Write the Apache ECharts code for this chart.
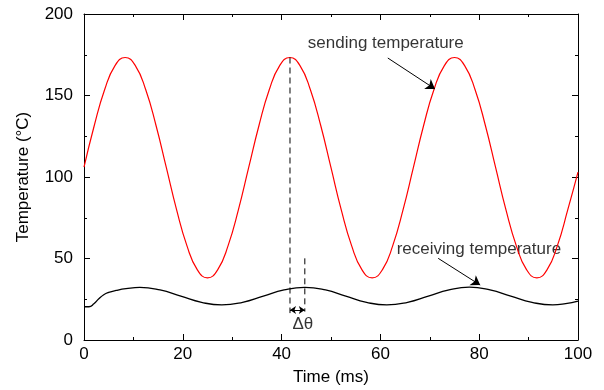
<!DOCTYPE html>
<html>
<head>
<meta charset="utf-8">
<script src="https://cdn.jsdelivr.net/npm/echarts@6/dist/echarts.min.js"></script>
<style>
  html, body { margin: 0; padding: 0; background: #fff; }
  #chart { width: 604px; height: 390px; }
</style>
</head>
<body>
<div id="chart"></div>
<script>
// sending temperature (red)
var sendX = [0, 2.08, 4.17, 6.25, 8.33, 10.42, 12.5, 14.58, 16.67, 18.75, 20.83, 22.92, 25, 27.08, 29.17, 31.25,
  33.33, 35.42, 37.5, 39.58, 41.67, 43.75, 45.83, 47.92, 50, 52.08, 54.17, 56.25, 58.33, 60.42, 62.5, 64.58,
  66.67, 68.75, 70.83, 72.92, 75, 77.08, 79.17, 81.25, 83.33, 85.42, 87.5, 89.58, 91.67, 93.75, 95.83, 97.92, 100];
var sendY = [106, 131.6, 153.5, 168.2, 173.3, 168.2, 153.5, 131.6, 105.7, 79.8, 57.9, 43.2, 38.1, 43.2, 57.9, 79.8,
  105.7, 131.6, 153.5, 168.2, 173.3, 168.2, 153.5, 131.6, 105.7, 79.8, 57.9, 43.2, 38.1, 43.2, 57.9, 79.8,
  105.7, 131.6, 153.5, 168.2, 173.3, 168.2, 153.5, 131.6, 105.7, 79.8, 57.9, 43.2, 38.1, 43.2, 57.9, 79.8, 103];

// receiving temperature (black)
var recvX = [0, 1, 2, 3, 4, 5, 6.5, 8.5, 11.3, 15.4, 19.6, 23.8, 27.9, 32.1, 36.3, 40.5, 44.7, 48.9, 53, 57.2,
  61.3, 65.5, 69.7, 73.9, 78, 82.2, 86.4, 90.7, 94.9, 97.5, 100];
var recvY = [20.4, 20.4, 22.2, 25.3, 27.8, 29.2, 30.4, 31.5, 32.3, 30.7, 26.9, 23.1, 21.5, 23.1, 26.9, 30.7, 32.3, 30.7, 26.9, 23.1,
  21.5, 23.1, 26.9, 30.7, 32.4, 30.7, 26.9, 23.1, 21.5, 22.3, 23.9];

// phase lag markers
var lagStart = 41.7;
var lagEnd = 44.7;

var font = 'Liberation Sans, Arial, Helvetica, sans-serif';

function pairs(xs, ys) {
  return xs.map(function (x, i) { return [x, ys[i]]; });
}

var dom = document.getElementById('chart');
var myChart = echarts.init(dom, null, { renderer: 'canvas' });

function axisX(pos, showLabel) {
  return {
    type: 'value',
    position: pos,
    min: 0, max: 100, interval: 20,
    axisLine: { show: true, onZero: false, lineStyle: { color: '#000', width: 1 } },
    axisTick: { show: true, inside: true, length: 6, lineStyle: { color: '#000' } },
    minorTick: { show: true, splitNumber: 2, length: 3, lineStyle: { color: '#000' } },
    splitLine: { show: false },
    axisLabel: { show: showLabel, color: '#000', fontSize: 17, fontFamily: font, margin: 6 },
    name: showLabel ? 'Time (ms)' : '',
    nameLocation: 'middle',
    nameGap: 29,
    nameTextStyle: { color: '#000', fontSize: 17, fontFamily: font }
  };
}

function axisY(pos, showLabel) {
  return {
    type: 'value',
    position: pos,
    min: 0, max: 200, interval: 50,
    axisLine: { show: true, onZero: false, lineStyle: { color: '#000', width: 1 } },
    axisTick: { show: true, inside: true, length: 6, lineStyle: { color: '#000' } },
    minorTick: { show: true, splitNumber: 2, length: 3, lineStyle: { color: '#000' } },
    splitLine: { show: false },
    axisLabel: { show: showLabel, color: '#000', fontSize: 17, fontFamily: font, margin: 11 },
    name: showLabel ? 'Temperature (°C)' : '',
    nameLocation: 'middle',
    nameGap: 52,
    nameTextStyle: { color: '#000', fontSize: 17, fontFamily: font }
  };
}

var option = {
  animation: false,
  backgroundColor: '#fff',
  grid: { left: 84, right: 26, top: 14, bottom: 50, containLabel: false, outerBoundsMode: 'none' },
  xAxis: [axisX('bottom', true), axisX('top', false)],
  yAxis: [axisY('left', true), axisY('right', false)],
  series: [
    {
      name: 'sending',
      type: 'line',
      data: pairs(sendX, sendY),
      smooth: true,
      symbol: 'none',
      lineStyle: { color: '#ff0000', width: 1.2 },
      markLine: {
        silent: true,
        symbol: ['none', 'arrow'],
        symbolSize: 9,
        label: { show: false },
        lineStyle: { color: '#000', width: 1, type: 'solid' },
        data: [
          [{ coord: [61.5, 173] }, { coord: [71.05, 154] }],
          [{ coord: [71.7, 50.1] }, { coord: [80.2, 33.7] }]
        ]
      }
    },
    {
      name: 'receiving',
      type: 'line',
      data: pairs(recvX, recvY),
      smooth: true,
      symbol: 'none',
      lineStyle: { color: '#000', width: 1.3 },
      markLine: {
        silent: true,
        symbol: ['arrow', 'arrow'],
        symbolSize: 6,
        label: { show: false },
        lineStyle: { color: '#000', width: 1, type: 'solid' },
        data: [
          [{ coord: [lagStart, 18.4] }, { coord: [lagEnd, 18.4] }]
        ]
      }
    },
    {
      type: 'line',
      data: [[lagStart, 173.3], [lagStart, 16.5]],
      symbol: 'none',
      lineStyle: { color: '#000', width: 1, type: [6, 4] }
    },
    {
      type: 'line',
      data: [[lagEnd, 50.1], [lagEnd, 17.4]],
      symbol: 'none',
      lineStyle: { color: '#000', width: 1, type: [6, 4] }
    },
    {
      type: 'scatter',
      symbolSize: 0,
      silent: true,
      data: [
        { value: [45.3, 182.2], name: 'sending temperature' },
        { value: [63.3, 55.6], name: 'receiving temperature' },
        { value: [42.2, 9.8], name: 'Δθ' }
      ],
      label: {
        show: true,
        position: 'right',
        distance: 0,
        formatter: function (p) { return p.name; },
        color: '#000',
        fontSize: 17,
        fontFamily: font
      }
    }
  ]
};

if (option && typeof option === 'object') {
  myChart.setOption(option);
}

window.addEventListener('resize', myChart.resize);
</script>
</body>
</html>
